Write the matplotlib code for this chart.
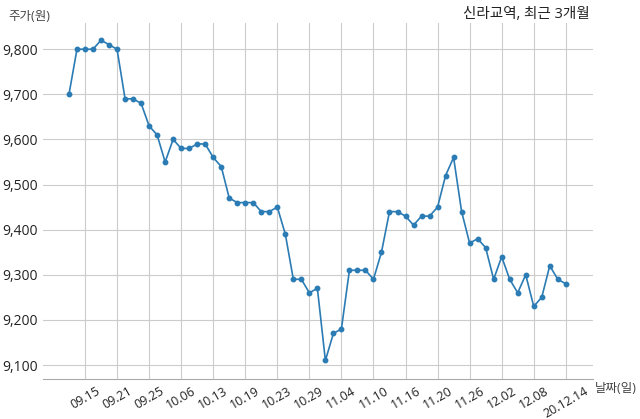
import matplotlib
matplotlib.use('Agg')
import matplotlib.pyplot as plt

plt.rcParams['font.family'] = ['Open Sans', 'Noto Sans CJK KR', 'DejaVu Sans']

prices = [9700, 9800, 9800, 9800, 9820, 9810, 9800, 9690, 9690, 9680,
          9630, 9610, 9550, 9600, 9580, 9580, 9590, 9590, 9560, 9540,
          9470, 9460, 9460, 9460, 9440, 9440, 9450, 9390, 9290, 9290,
          9260, 9270, 9110, 9170, 9180, 9310, 9310, 9310, 9290, 9350,
          9440, 9440, 9430, 9410, 9430, 9430, 9450, 9520, 9560, 9440,
          9370, 9380, 9360, 9290, 9340, 9290, 9260, 9300, 9230, 9250,
          9320, 9290, 9280]
tick_pos = [2, 6, 10, 14, 18, 22, 26, 30, 34, 38, 42, 46, 50, 54, 58, 62]
tick_labels = ['09.15', '09.21', '09.25', '10.06', '10.13', '10.19', '10.23', '10.29',
               '11.04', '11.10', '11.16', '11.20', '11.26', '12.02', '12.08', '20.12.14']
y_ticks = [9100, 9200, 9300, 9400, 9500, 9600, 9700, 9800]

fig = plt.figure(figsize=(6.4, 4.19), dpi=100)
ax = fig.add_axes([0.0672, 0.0955, 0.8594, 0.8495])

x = list(range(len(prices)))
ax.plot(x, prices, color='#2b7bb4', lw=1.2, marker='o', ms=3.2, zorder=3)

ax.set_xlim(-3.24, 65.4)
ax.set_ylim(9069, 9858)
ax.set_xticks(tick_pos)
ax.set_xticklabels(tick_labels, rotation=30, fontsize=9, color='#222222')
ax.set_yticks(y_ticks)
ax.set_yticklabels(['{:,}'.format(v) for v in y_ticks], fontsize=10, color='#222222')
ax.tick_params(length=0, pad=4)
ax.grid(True, color='#cccccc', lw=0.8)
ax.set_axisbelow(True)

for s in ['top', 'right', 'left']:
    ax.spines[s].set_visible(False)
ax.spines['bottom'].set_color('#aaaaaa')
ax.spines['bottom'].set_linewidth(0.8)

fig.text(8 / 640, 1 - 17 / 419, '주가(원)', fontsize=9, color='#444444', va='center', ha='left')
fig.text(595 / 640, 1 - 388 / 419, '날짜(일)', fontsize=9, color='#444444', va='center', ha='left')
fig.text(590 / 640, 1 - 14 / 419, '신라교역, 최근 3개월', fontsize=10.5, color='#222222',
         va='center', ha='right')

fig.savefig('out.png', dpi=100)
